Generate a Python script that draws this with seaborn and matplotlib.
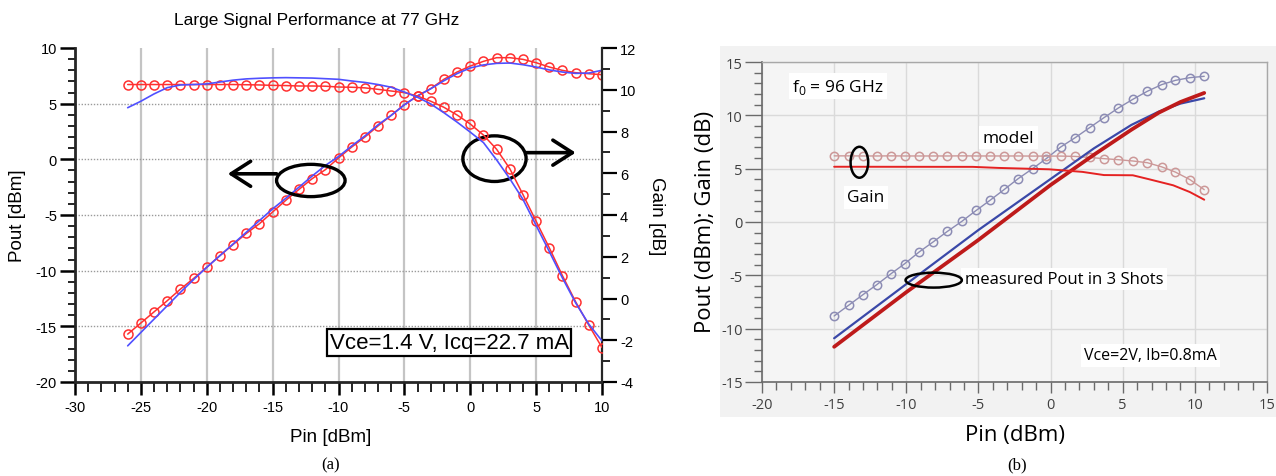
import matplotlib
matplotlib.use("Agg")
import matplotlib.pyplot as plt
from matplotlib.patches import Ellipse, Rectangle
from matplotlib.ticker import MultipleLocator
import pandas as pd
import seaborn as sns

# ---------------- (a) Large signal performance at 77 GHz ----------------
pin_a = [-26, -25, -24, -23, -22, -21, -20, -19, -18, -17, -16, -15, -14,
         -13, -12, -11, -10, -9, -8, -7, -6, -5, -4, -3, -2, -1, 0, 1, 2,
         3, 4, 5, 6, 7, 8, 9, 10]
pout_meas_a = [-15.7, -14.7, -13.7, -12.7, -11.66, -10.7, -9.7, -8.64, -7.65,
               -6.66, -5.78, -4.73, -3.68, -2.7, -1.74, -0.93, 0.12, 1.1, 2.0,
               3.0, 3.95, 4.91, 5.7, 6.35, 7.19, 7.84, 8.38, 8.8, 9.13, 9.13,
               8.98, 8.68, 8.29, 7.99, 7.78, 7.69, 7.6]
pout_model_a = [-16.75, -15.55, -14.35, -13.15, -11.95, -10.8, -9.7, -8.65,
                -7.6, -6.55, -5.5, -4.45, -3.5, -2.5, -1.5, -0.55, 0.25, 1.2,
                2.1, 3.1, 3.95, 4.9, 5.7, 6.34, 7.06, 7.7, 8.21, 8.48, 8.62,
                8.65, 8.5, 8.29, 8.03, 7.84, 7.72, 7.75, 8.0]
gain_meas_a = [10.25, 10.25, 10.25, 10.25, 10.25, 10.25, 10.25, 10.25, 10.25,
               10.24, 10.23, 10.21, 10.2, 10.18, 10.18, 10.17, 10.13, 10.12,
               10.09, 10.02, 9.94, 9.86, 9.7, 9.45, 9.16, 8.79, 8.36, 7.83,
               7.15, 6.22, 4.98, 3.7, 2.43, 1.09, -0.16, -1.28, -2.35]
gain_model_a = [9.14, 9.45, 9.8, 10.1, 10.23, 10.25, 10.28, 10.37, 10.46,
                10.52, 10.55, 10.57, 10.58, 10.57, 10.56, 10.53, 10.5, 10.42,
                10.35, 10.25, 10.12, 9.89, 9.64, 9.32, 8.9, 8.45, 7.97, 7.47,
                6.64, 5.74, 4.75, 3.5, 2.25, 0.98, -0.21, -1.23, -2.03]
bias_a = "Vce=1.4 V, Icq=22.7 mA"

# ---------------- (b) 96 GHz, model vs. measurement ----------------
pin_model_b = [-15.0, -14.0, -13.0, -12.05, -11.05, -10.1, -9.1, -8.15, -7.15,
               -6.15, -5.15, -4.2, -3.2, -2.25, -1.25, -0.3, 0.7, 1.7, 2.7,
               3.7, 4.7, 5.7, 6.7, 7.7, 8.65, 9.65, 10.65]
pout_model_b = [-8.81, -7.81, -6.81, -5.88, -4.84, -3.9, -2.8, -1.88, -0.88,
                0.06, 1.09, 2.03, 3.06, 4.06, 5.0, 5.94, 7.03, 7.9, 8.84, 9.78,
                10.69, 11.5, 12.25, 12.88, 13.28, 13.53, 13.66]
gain_model_b = [6.2, 6.2, 6.19, 6.19, 6.2, 6.19, 6.19, 6.19, 6.19, 6.2, 6.19,
                6.19, 6.19, 6.19, 6.18, 6.18, 6.18, 6.15, 6.05, 5.94, 5.84,
                5.72, 5.56, 5.17, 4.68, 3.98, 3.03]
pin_meas_b = [-15.0, -10.0, -5.0, 0.0, 3.0, 5.6, 7.5, 9.0, 10.65]
pout_shot1_b = [-10.9, -5.82, -0.75, 4.03, 6.9, 9.1, 10.35, 11.1, 11.6]
pout_shot2_b = [-11.7, -6.58, -1.68, 3.47, 6.3, 8.65, 10.25, 11.25, 12.1]
pin_gain_meas_b = [-15.0, -5.4, -3.6, -0.1, 2.2, 3.7, 5.7, 6.85, 8.5, 9.65, 10.65]
gain_meas_b = [5.18, 5.17, 5.07, 4.94, 4.7, 4.4, 4.38, 4.0, 3.44, 2.81, 2.09]

sns.set_style("ticks")
plt.rcParams["font.family"] = ["Liberation Sans", "DejaVu Sans"]
plt.rcParams.update({"axes.unicode_minus": False, "text.color": "black",
                     "axes.labelcolor": "black", "xtick.color": "black",
                     "ytick.color": "black"})

W, H = 1276, 477
fig = plt.figure(figsize=(W / 100, H / 100), dpi=100)
fig.patch.set_facecolor("white")


def fx(px):
    return px / W


def fy(py):
    return 1 - py / H


# ======================= panel (a) =======================
ax = fig.add_axes([fx(75), fy(383), (602 - 75) / W, (383 - 49) / H])
ax.set_facecolor("white")
ax2 = ax.twinx()

RED = "#ff3030"
BLUE = "#5050ff"

df_a = pd.DataFrame({"pin": pin_a, "pout_meas": pout_meas_a,
                     "pout_model": pout_model_a, "gain_meas": gain_meas_a,
                     "gain_model": gain_model_a})

sns.lineplot(data=df_a, x="pin", y="pout_meas", ax=ax, color=RED, lw=1.1,
             marker="o", markersize=6.5, markerfacecolor="none",
             markeredgecolor=RED, markeredgewidth=1.1, errorbar=None,
             legend=False, zorder=4)
sns.lineplot(data=df_a, x="pin", y="pout_model", ax=ax, color=BLUE, lw=1.2,
             errorbar=None, legend=False, zorder=5)
sns.lineplot(data=df_a, x="pin", y="gain_meas", ax=ax2, color=RED, lw=1.1,
             marker="o", markersize=6.5, markerfacecolor="none",
             markeredgecolor=RED, markeredgewidth=1.1, errorbar=None,
             legend=False, zorder=4)
sns.lineplot(data=df_a, x="pin", y="gain_model", ax=ax2, color=BLUE, lw=1.2,
             errorbar=None, legend=False, zorder=5)

ax.set_xlim(-30, 10)
ax.set_ylim(-20, 10)
ax2.set_ylim(-4, 12)

for xv in [-25, -20, -15, -10, -5, 0, 5]:
    ax.axvline(xv, color="#c4c4c4", lw=1.6, zorder=0)
for yv in [-15, -10, -5, 0, 5]:
    ax.axhline(yv, color="#9a9a9a", lw=1.0, ls=(0, (1, 1.2)), zorder=0)

ax.xaxis.set_major_locator(MultipleLocator(5))
ax.xaxis.set_minor_locator(MultipleLocator(1))
ax.yaxis.set_major_locator(MultipleLocator(5))
ax.yaxis.set_minor_locator(MultipleLocator(1))
ax2.yaxis.set_major_locator(MultipleLocator(2))
ax2.yaxis.set_minor_locator(MultipleLocator(1))

for a in (ax, ax2):
    a.set_xlabel("")
    a.set_ylabel("")
    a.spines["top"].set_visible(False)
ax.spines["left"].set_linewidth(2.0)
ax.spines["bottom"].set_linewidth(2.0)
ax.spines["right"].set_visible(False)
ax2.spines["left"].set_visible(False)
ax2.spines["bottom"].set_visible(False)
ax2.spines["right"].set_linewidth(1.6)

ax.tick_params(axis="y", which="major", direction="out", length=11, width=1.8,
               labelsize=10.5, pad=2)
ax.tick_params(axis="y", which="minor", direction="out", length=5, width=1.2)
ax.tick_params(axis="x", which="major", direction="out", length=9, width=1.8,
               labelsize=10.5, pad=4)
ax.tick_params(axis="x", which="minor", direction="out", length=7, width=1.2)
ax2.tick_params(axis="y", which="major", direction="out", length=11, width=1.6,
                labelsize=10.5, pad=2)
ax2.tick_params(axis="y", which="minor", direction="out", length=6, width=1.2)

# annotations: ellipses marking the curve groups and the axis they belong to
ax.add_patch(Ellipse((-12.1, -1.9), 5.2, 2.9, fill=False, ec="black", lw=2.4,
                     zorder=6))
ax.annotate("", xy=(-18.4, -1.3), xytext=(-14.7, -1.3),
            arrowprops=dict(arrowstyle="->,head_length=0.7,head_width=0.45",
                            lw=2.6, color="black", mutation_scale=20,
                            shrinkA=0, shrinkB=0), zorder=6)
ax.add_patch(Ellipse((1.84, 0.06), 4.8, 4.1, fill=False, ec="black", lw=2.4,
                     zorder=6))
ax.annotate("", xy=(8.0, 0.6), xytext=(4.25, 0.6),
            arrowprops=dict(arrowstyle="->,head_length=0.7,head_width=0.45",
                            lw=2.6, color="black", mutation_scale=20,
                            shrinkA=0, shrinkB=0), zorder=6)
ax2.text(-1.6, -2.1, bias_a, ha="center", va="center", fontsize=16,
         bbox=dict(boxstyle="square,pad=0.12", fc="white", ec="black", lw=1.6),
         zorder=10)

fig.text(fx(317), fy(20), "Large Signal Performance at 77 GHz", ha="center",
         va="center", fontsize=12.5)
fig.text(fx(18), fy(216), "Pout [dBm]", rotation=90, ha="center",
         va="center", fontsize=13.5)
fig.text(fx(656), fy(216), "Gain [dB]", rotation=270, ha="center",
         va="center", fontsize=13.5)
fig.text(fx(331), fy(438), "Pin [dBm]", ha="center", va="center",
         fontsize=13.5)
fig.text(fx(331), fy(465), "(a)", ha="center", va="center", fontsize=12,
         family="Liberation Serif")

# ======================= panel (b) =======================
fig.patches.append(Rectangle((fx(720), fy(418)), (W - 720) / W,
                             (418 - 47) / H, transform=fig.transFigure,
                             fc="#f2f2f2", ec="none", zorder=-5))

bx = fig.add_axes([fx(762), fy(383), (1267 - 762) / W, (383 - 63) / H])
bx.set_zorder(2)
bx.set_facecolor("#f5f5f5")
FB = ["Open Sans", "DejaVu Sans"]

df_model = pd.DataFrame({"pin": pin_model_b, "pout": pout_model_b,
                         "gain": gain_model_b})
df_meas = pd.DataFrame({"pin": pin_meas_b, "shot1": pout_shot1_b,
                        "shot2": pout_shot2_b})
df_gain = pd.DataFrame({"pin": pin_gain_meas_b, "gain": gain_meas_b})

SLATE = "#8c8cb4"
ROSE = "#cc9898"
sns.lineplot(data=df_model, x="pin", y="pout", ax=bx, color=SLATE, lw=1.0,
             marker="o", markersize=6, markerfacecolor="none",
             markeredgecolor=SLATE, markeredgewidth=1.1, errorbar=None,
             legend=False, zorder=3)
sns.lineplot(data=df_model, x="pin", y="gain", ax=bx, color=ROSE, lw=1.0,
             marker="o", markersize=6, markerfacecolor="none",
             markeredgecolor=ROSE, markeredgewidth=1.1, errorbar=None,
             legend=False, zorder=3)
sns.lineplot(data=df_meas, x="pin", y="shot1", ax=bx, color="#3a48a8", lw=1.6,
             errorbar=None, legend=False, zorder=4)
sns.lineplot(data=df_meas, x="pin", y="shot2", ax=bx, color="#be1a1a", lw=2.7,
             errorbar=None, legend=False, zorder=4)
sns.lineplot(data=df_gain, x="pin", y="gain", ax=bx, color="#e52222", lw=1.4,
             errorbar=None, legend=False, zorder=4)

bx.set_xlim(-20, 15)
bx.set_ylim(-15, 15)
bx.set_xlabel("")
bx.set_ylabel("")
bx.xaxis.set_major_locator(MultipleLocator(5))
bx.xaxis.set_minor_locator(MultipleLocator(1))
bx.yaxis.set_major_locator(MultipleLocator(5))
bx.yaxis.set_minor_locator(MultipleLocator(1))
bx.grid(True, which="major", color="#dadada", lw=1.0)
bx.set_axisbelow(True)
for s in ("top", "right"):
    bx.spines[s].set_color("#a8a8a8")
    bx.spines[s].set_linewidth(1.0)
for s in ("left", "bottom"):
    bx.spines[s].set_color("#6a6a6a")
    bx.spines[s].set_linewidth(1.2)
bx.tick_params(axis="y", which="major", direction="out", length=12, width=1.0,
               color="#6a6a6a", labelsize=10.5, labelcolor="#404040", pad=2)
bx.tick_params(axis="y", which="minor", direction="out", length=6, width=1.0,
               color="#6a6a6a")
bx.tick_params(axis="x", which="major", direction="out", length=8, width=1.0,
               color="#6a6a6a", labelsize=10.5, labelcolor="#404040", pad=3)
bx.tick_params(axis="x", which="minor", direction="out", length=6, width=1.0,
               color="#6a6a6a")
for lab in bx.get_xticklabels() + bx.get_yticklabels():
    lab.set_family(FB)

box = dict(boxstyle="square,pad=0.2", fc="white", ec="none")
bx.text(-17.9, 12.75, r"f$_\mathregular{0}$ = 96 GHz", ha="left", va="center",
        fontsize=12.5, family=FB, bbox=box, zorder=6)
bx.text(-4.7, 7.9, "model", ha="left", va="center", fontsize=12.5, family=FB,
        bbox=box, zorder=6)
bx.text(-14.1, 2.3, "Gain", ha="left", va="center", fontsize=12.5, family=FB,
        bbox=box, zorder=6)
bx.text(-5.95, -5.35, "measured Pout in 3 Shots", ha="left", va="center",
        fontsize=12, family=FB, bbox=box, zorder=6)
bx.text(2.3, -12.5, "Vce=2V, Ib=0.8mA", ha="left", va="center",
        fontsize=11.5, family=FB, bbox=box, zorder=6)
bx.add_patch(Ellipse((-13.25, 5.6), 1.22, 2.9, fill=False, ec="black", lw=1.8,
                     zorder=7))
bx.add_patch(Ellipse((-8.1, -5.45), 3.9, 1.4, fill=False, ec="black", lw=1.8,
                     zorder=7))

fig.text(fx(705), fy(222), "Pout (dBm); Gain (dB)", rotation=90, ha="center",
         va="center", fontsize=16, family=FB)
fig.text(fx(1015), fy(436), "Pin (dBm)", ha="center", va="center",
         fontsize=16, family=FB)
fig.text(fx(1017), fy(465), "(b)", ha="center", va="center", fontsize=12,
         family="Liberation Serif")

fig.savefig("out.png", dpi=100)
